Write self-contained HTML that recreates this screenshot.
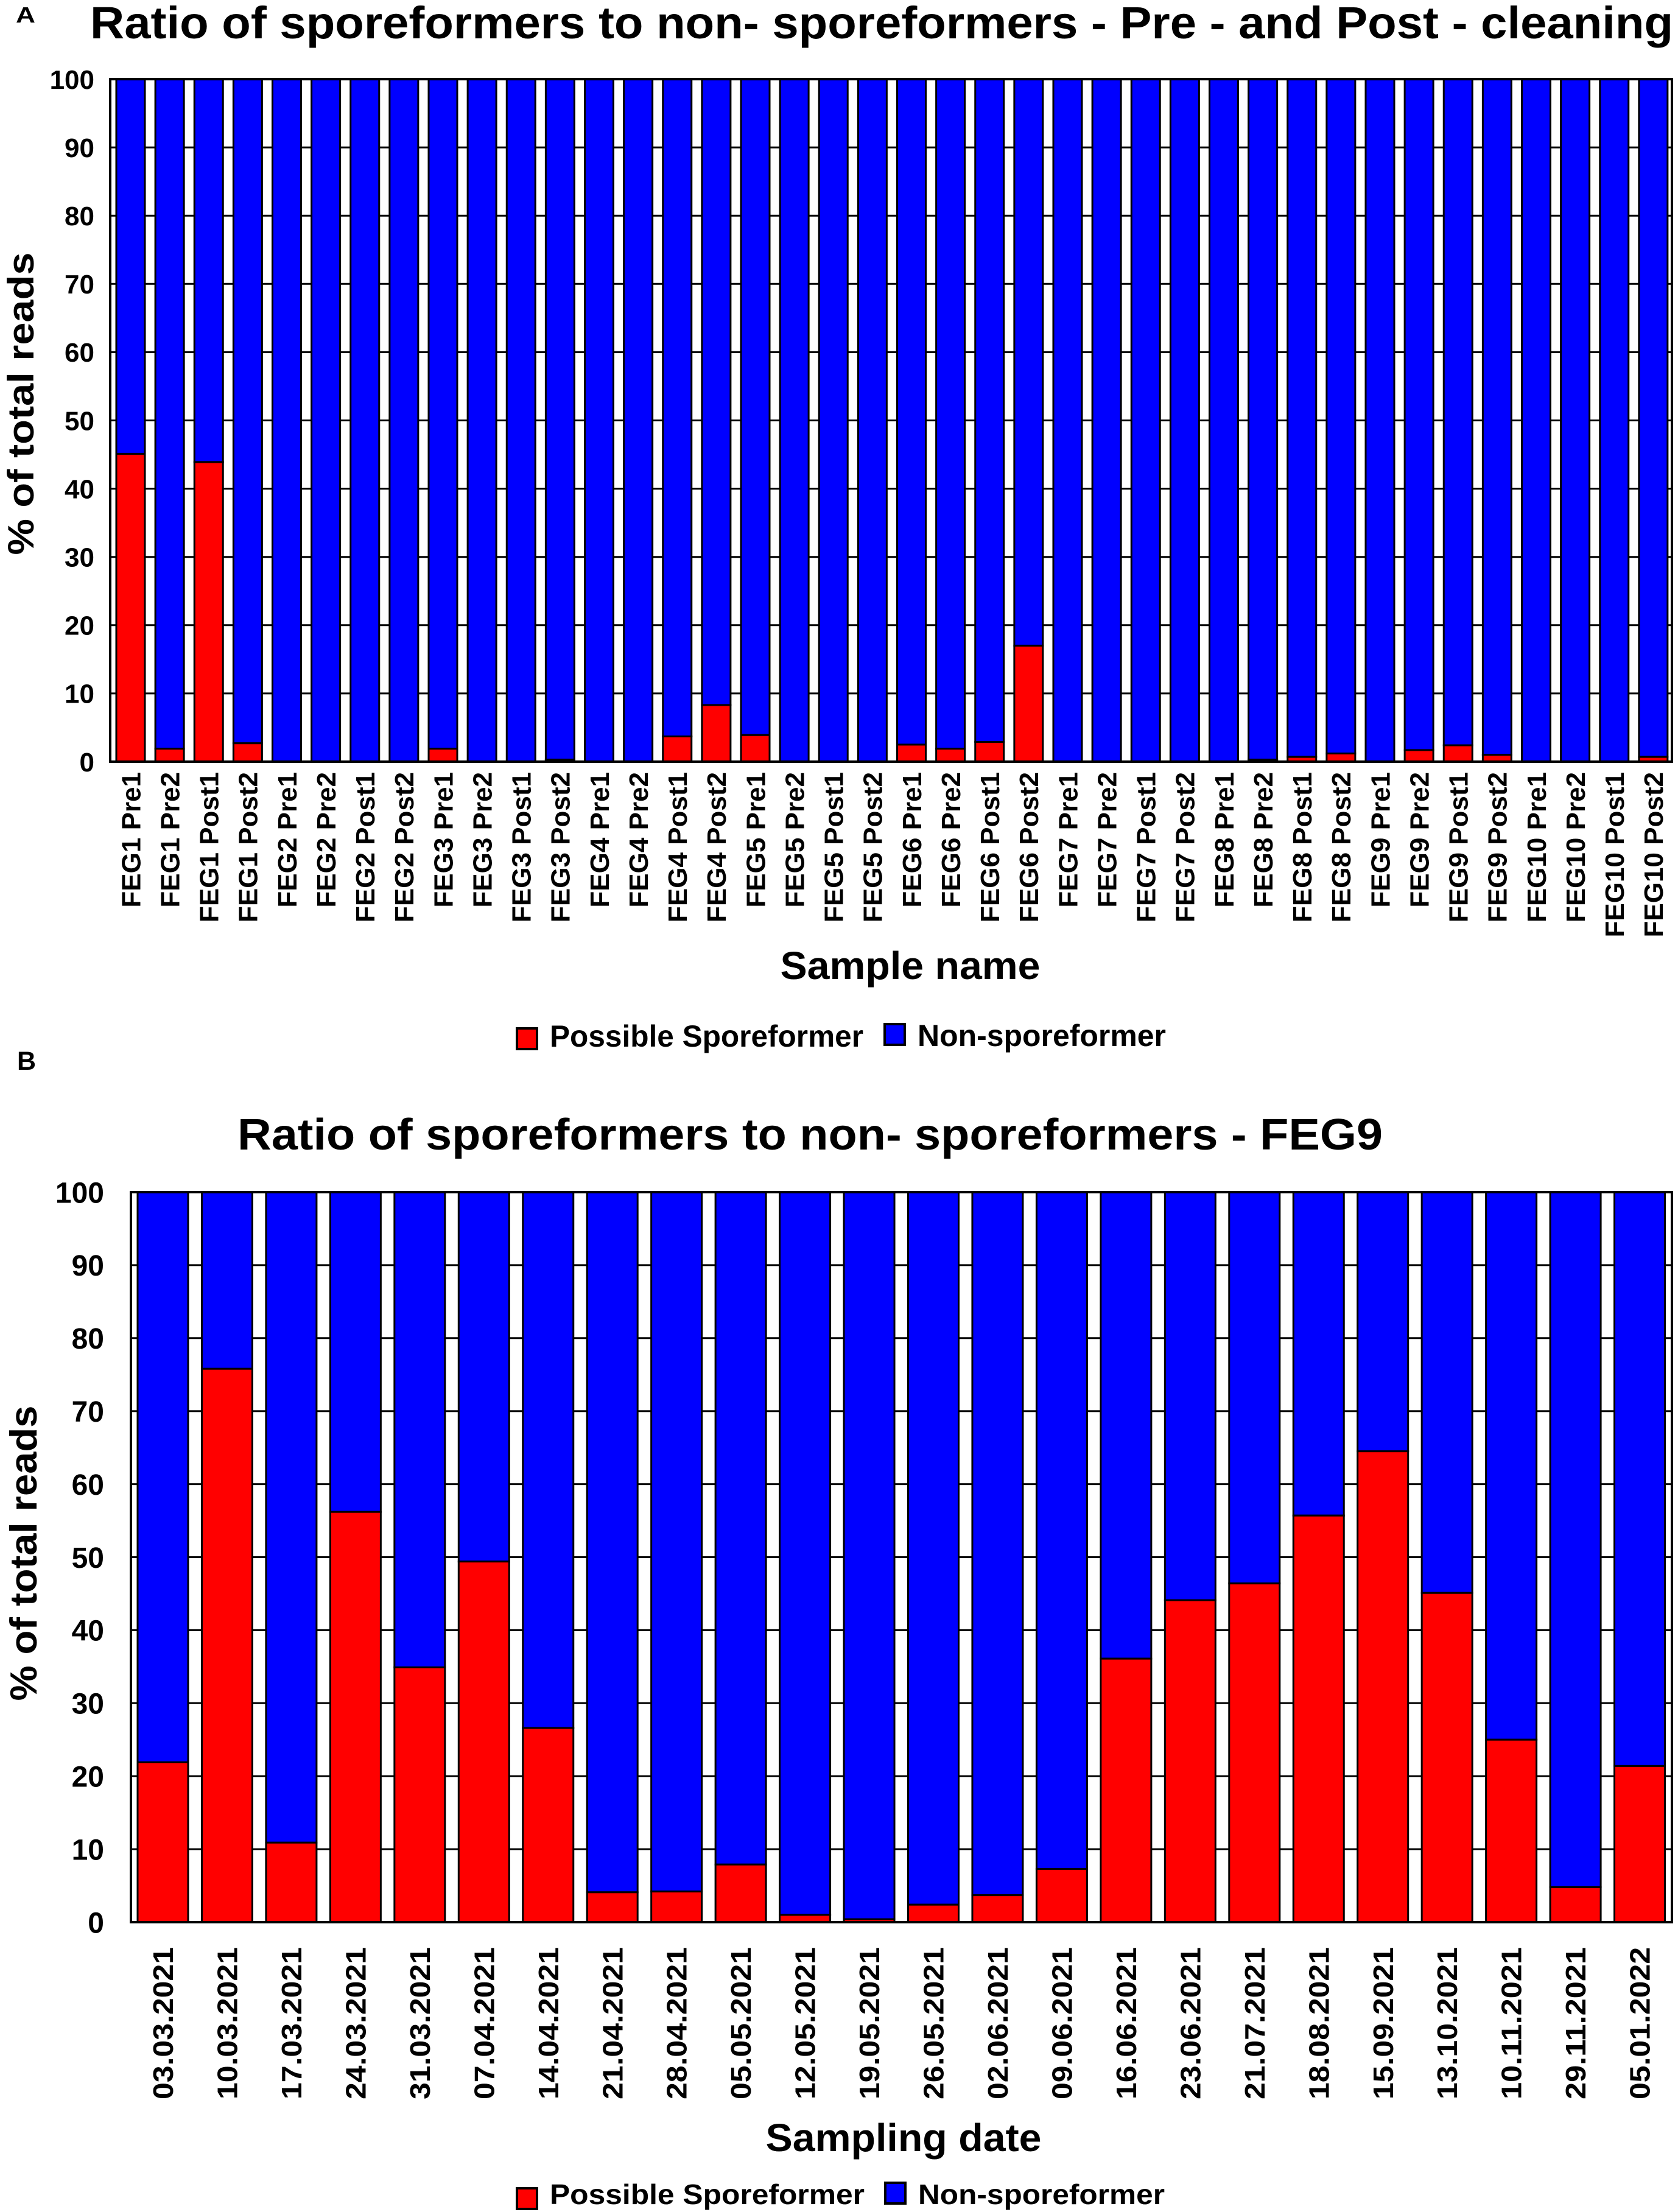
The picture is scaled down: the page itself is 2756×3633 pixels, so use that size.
<!DOCTYPE html>
<html><head><meta charset="utf-8"><style>
html,body{margin:0;padding:0;background:#fff}
svg{display:block}
text{font-family:"Liberation Sans",Arial,sans-serif;fill:#000}
</style></head><body>
<svg id="fig" width="2756" height="3633" viewBox="0 0 2756 3633" xmlns="http://www.w3.org/2000/svg">
<rect width="2756" height="3633" fill="#fff"/>
<text x="26" y="37" font-size="36" font-weight="bold" textLength="32" lengthAdjust="spacingAndGlyphs">A</text>
<text x="148" y="63" font-size="74" font-weight="bold" textLength="2600" lengthAdjust="spacingAndGlyphs">Ratio of sporeformers to non- sporeformers  -  Pre - and Post - cleaning</text>
<g id="chartA"></g>
<text x="1495" y="1608" font-size="64" font-weight="bold" text-anchor="middle" textLength="427" lengthAdjust="spacingAndGlyphs">Sample name</text>
<g>
<rect x="849" y="1689" width="33" height="34" fill="#ff0000" stroke="#000" stroke-width="4"/>
<text x="903" y="1719" font-size="50" font-weight="bold" textLength="515" lengthAdjust="spacingAndGlyphs">Possible Sporeformer</text>
<rect x="1453" y="1682" width="33" height="34" fill="#0000ff" stroke="#000" stroke-width="4"/>
<text x="1507" y="1718" font-size="50" font-weight="bold" textLength="408" lengthAdjust="spacingAndGlyphs">Non-sporeformer</text>
</g>
<text x="28" y="1757" font-size="43" font-weight="bold">B</text>
<text x="390" y="1888" font-size="72" font-weight="bold" textLength="1881" lengthAdjust="spacingAndGlyphs">Ratio of sporeformers to non- sporeformers - FEG9</text>
<g id="chartB"></g>
<text x="1484" y="3533" font-size="64" font-weight="bold" text-anchor="middle" textLength="453" lengthAdjust="spacingAndGlyphs">Sampling date</text>
<g>
<rect x="849" y="3594" width="33" height="34" fill="#ff0000" stroke="#000" stroke-width="4"/>
<text x="903" y="3620" font-size="46" font-weight="bold" textLength="517" lengthAdjust="spacingAndGlyphs">Possible Sporeformer</text>
<rect x="1454" y="3585" width="33" height="34" fill="#0000ff" stroke="#000" stroke-width="4"/>
<text x="1508" y="3620" font-size="46" font-weight="bold" textLength="405" lengthAdjust="spacingAndGlyphs">Non-sporeformer</text>
</g>
</svg>
<script>
const categoriesA = ["FEG1 Pre1","FEG1 Pre2","FEG1 Post1","FEG1 Post2","FEG2 Pre1","FEG2 Pre2","FEG2 Post1","FEG2 Post2","FEG3 Pre1","FEG3 Pre2","FEG3 Post1","FEG3 Post2","FEG4 Pre1","FEG4 Pre2","FEG4 Post1","FEG4 Post2","FEG5 Pre1","FEG5 Pre2","FEG5 Post1","FEG5 Post2","FEG6 Pre1","FEG6 Pre2","FEG6 Post1","FEG6 Post2","FEG7 Pre1","FEG7 Pre2","FEG7 Post1","FEG7 Post2","FEG8 Pre1","FEG8 Pre2","FEG8 Post1","FEG8 Post2","FEG9 Pre1","FEG9 Pre2","FEG9 Post1","FEG9 Post2","FEG10 Pre1","FEG10 Pre2","FEG10 Post1","FEG10 Post2"];
const sporeA = [45.1,1.9,43.9,2.7,0,0,0,0,1.9,0,0,0.3,0,0,3.7,8.3,3.9,0,0,0,2.5,1.9,2.9,17.0,0,0,0,0,0,0.3,0.7,1.2,0,1.7,2.4,1.0,0,0,0,0.7];
const categoriesB = ["03.03.2021","10.03.2021","17.03.2021","24.03.2021","31.03.2021","07.04.2021","14.04.2021","21.04.2021","28.04.2021","05.05.2021","12.05.2021","19.05.2021","26.05.2021","02.06.2021","09.06.2021","16.06.2021","23.06.2021","21.07.2021","18.08.2021","15.09.2021","13.10.2021","10.11.2021","29.11.2021","05.01.2022"];
const sporeB = [21.9,75.8,10.9,56.2,34.9,49.4,26.6,4.1,4.2,7.9,1.0,0.4,2.4,3.7,7.3,36.1,44.1,46.4,55.7,64.5,45.1,25.0,4.8,21.4];
const yTicks = [0,10,20,30,40,50,60,70,80,90,100];

const NS="http://www.w3.org/2000/svg";
function mk(parent,tag,attrs,txt){const e=document.createElementNS(NS,tag);for(const k in attrs)e.setAttribute(k,attrs[k]);if(txt!==undefined)e.textContent=txt;parent.appendChild(e);return e;}

function drawChart(g,o,cats,vals,prefix){
  const y=v=>o.bottom-(v/100)*(o.bottom-o.top);
  const pitch=(o.right-o.left)/cats.length;
  const x=i=>o.left+i*pitch+o.off;
  yTicks.forEach(t=>{
    const l=mk(g,'line',{x1:o.left,x2:o.right,y1:y(t),y2:y(t),stroke:'#000','stroke-width':3});
    
    
    const tx=mk(g,'text',{x:o.tickX,y:y(t)+o.tickFs*0.36,'font-size':o.tickFs,'font-weight':'bold','text-anchor':'end'},String(t));
    
    
  });
  cats.forEach((c,i)=>{
    const v=vals[i];
    const b=mk(g,'rect',{x:x(i),y:y(100),width:o.bw,height:y(v)-y(100),fill:'#0000ff',stroke:'#000','stroke-width':3});
    
    
    if(v>0){
      const r=mk(g,'rect',{x:x(i),y:y(v),width:o.bw,height:y(0)-y(v),fill:'#ff0000',stroke:'#000','stroke-width':3});
      
      
    }
    const cx=x(i)+o.bw/2+o.lblFs*0.36;
    const lt=mk(g,'text',{x:cx,y:o.lblY,'font-size':o.lblFs,'font-weight':'bold','text-anchor':'end',transform:'rotate(-90 '+cx+' '+o.lblY+')'},c);
    if(o.lblLen) lt.setAttribute('textLength',o.lblLen), lt.setAttribute('lengthAdjust','spacingAndGlyphs');
    
    
  });
  const fr=mk(g,'rect',{x:o.left,y:o.top,width:o.right-o.left,height:o.bottom-o.top,fill:'none',stroke:'#000','stroke-width':4});
  
  
  const yt=mk(g,'text',{x:o.ytX,y:o.ytY,'font-size':o.ytFs,'font-weight':'bold','text-anchor':'middle',textLength:o.ytLen,lengthAdjust:'spacingAndGlyphs',transform:'rotate(-90 '+o.ytX+' '+o.ytY+')'},'% of total reads');
  
  
}

drawChart(document.getElementById('chartA'),{left:181,right:2746,top:130,bottom:1251,off:10,bw:47,tickX:155,tickFs:44,lblY:1268,lblFs:44,ytX:55,ytY:663,ytFs:60,ytLen:497},categoriesA,sporeA,'chart-a');
drawChart(document.getElementById('chartB'),{left:215,right:2746,top:1958,bottom:3157,off:11,bw:83,tickX:171,tickFs:48,lblY:3198,lblFs:46,lblLen:250,ytX:60,ytY:2551,ytFs:62,ytLen:485},categoriesB,sporeB,'chart-b');
</script>
</body></html>
